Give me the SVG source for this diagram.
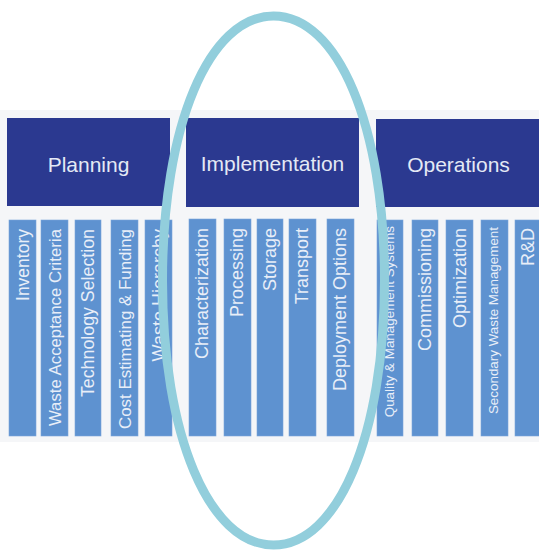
<svg xmlns="http://www.w3.org/2000/svg" width="539" height="550" viewBox="0 0 539 550">
  <style>
    .hdr { fill: #2b3990; }
    .col { fill: #5e92d0; stroke: #7aa6da; stroke-width: 0.6; }
    .ht { font-family: "Liberation Sans", Arial, sans-serif; font-size: 21px; fill: #e4e9f5; text-anchor: middle; }
    .ct { font-family: "Liberation Sans", Arial, sans-serif; font-size: 18px; fill: #e8eef8; text-anchor: end; }
    .cs { font-size: 13.4px; }
    .ring { fill: none; stroke: #92cedc; stroke-width: 9; }
  </style>
  <rect x="0" y="0" width="539" height="550" fill="#ffffff"/>
  <rect x="0" y="110" width="539" height="332" fill="#f5f6f8"/>

  <g id="planning">
    <rect class="hdr" x="7" y="118" width="163" height="88"/>
    <text class="ht" x="88.5" y="172">Planning</text>
  </g>
  <g id="implementation">
    <rect class="hdr" x="186" y="118" width="173" height="89"/>
    <text class="ht" x="272.5" y="171">Implementation</text>
  </g>
  <g id="operations">
    <rect class="hdr" x="376" y="119" width="170" height="88"/>
    <text class="ht" x="458.5" y="172">Operations</text>
  </g>

  <g id="inventory"><rect class="col" x="9" y="220" width="27" height="216"/><text class="ct" transform="translate(29,229) rotate(-90)" style="font-size:17.5px">Inventory</text></g>
  <g id="waste-acceptance-criteria"><rect class="col" x="41" y="220" width="27" height="216"/><text class="ct" transform="translate(61,229) rotate(-90)" style="font-size:16.8px">Waste Acceptance Criteria</text></g>
  <g id="technology-selection"><rect class="col" x="75" y="220" width="26" height="216"/><text class="ct" transform="translate(94,229) rotate(-90)" style="font-size:17.8px">Technology Selection</text></g>
  <g id="cost-estimating"><rect class="col" x="111" y="220" width="27" height="216"/><text class="ct" transform="translate(131,229) rotate(-90)" style="font-size:16.9px">Cost Estimating &amp; Funding</text></g>
  <g id="waste-hierarchy"><rect class="col" x="145" y="220" width="27" height="216"/><text class="ct" transform="translate(165,229) rotate(-90)">Waste Hierarchy</text></g>

  <g id="characterization"><rect class="col" x="189" y="219" width="27" height="217"/><text class="ct" transform="translate(208,228) rotate(-90)">Characterization</text></g>
  <g id="processing"><rect class="col" x="224" y="219" width="27" height="217"/><text class="ct" transform="translate(243,228) rotate(-90)">Processing</text></g>
  <g id="storage"><rect class="col" x="257" y="219" width="26" height="217"/><text class="ct" transform="translate(276,228) rotate(-90)">Storage</text></g>
  <g id="transport"><rect class="col" x="289" y="219" width="27" height="217"/><text class="ct" transform="translate(308,228) rotate(-90)">Transport</text></g>
  <g id="deployment-options"><rect class="col" x="327" y="219" width="27" height="217"/><text class="ct" transform="translate(346,228) rotate(-90)">Deployment Options</text></g>

  <g id="quality-management"><rect class="col" x="377" y="220" width="26" height="216"/><text class="ct cs" transform="translate(394,226) rotate(-90)">Quality &amp; Management Systems</text></g>
  <g id="commissioning"><rect class="col" x="412" y="220" width="26" height="216"/><text class="ct" transform="translate(431,228) rotate(-90)">Commissioning</text></g>
  <g id="optimization"><rect class="col" x="446" y="220" width="27" height="216"/><text class="ct" transform="translate(466,228) rotate(-90)">Optimization</text></g>
  <g id="secondary-waste-management"><rect class="col" x="481" y="220" width="27" height="216"/><text class="ct cs" transform="translate(498,227) rotate(-90)">Secondary Waste Management</text></g>
  <g id="rnd"><rect class="col" x="515" y="220" width="30" height="216"/><text class="ct" transform="translate(534,228) rotate(-90)">R&amp;D</text></g>

  <g id="highlight">
    <path class="ring" d="M273.5,16 C338,16 384.5,126 384.5,280.5 C384.5,435 338,545 273.5,545 C209,545 162.5,435 162.5,280.5 C162.5,126 209,16 273.5,16 Z"/>
  </g>
</svg>
